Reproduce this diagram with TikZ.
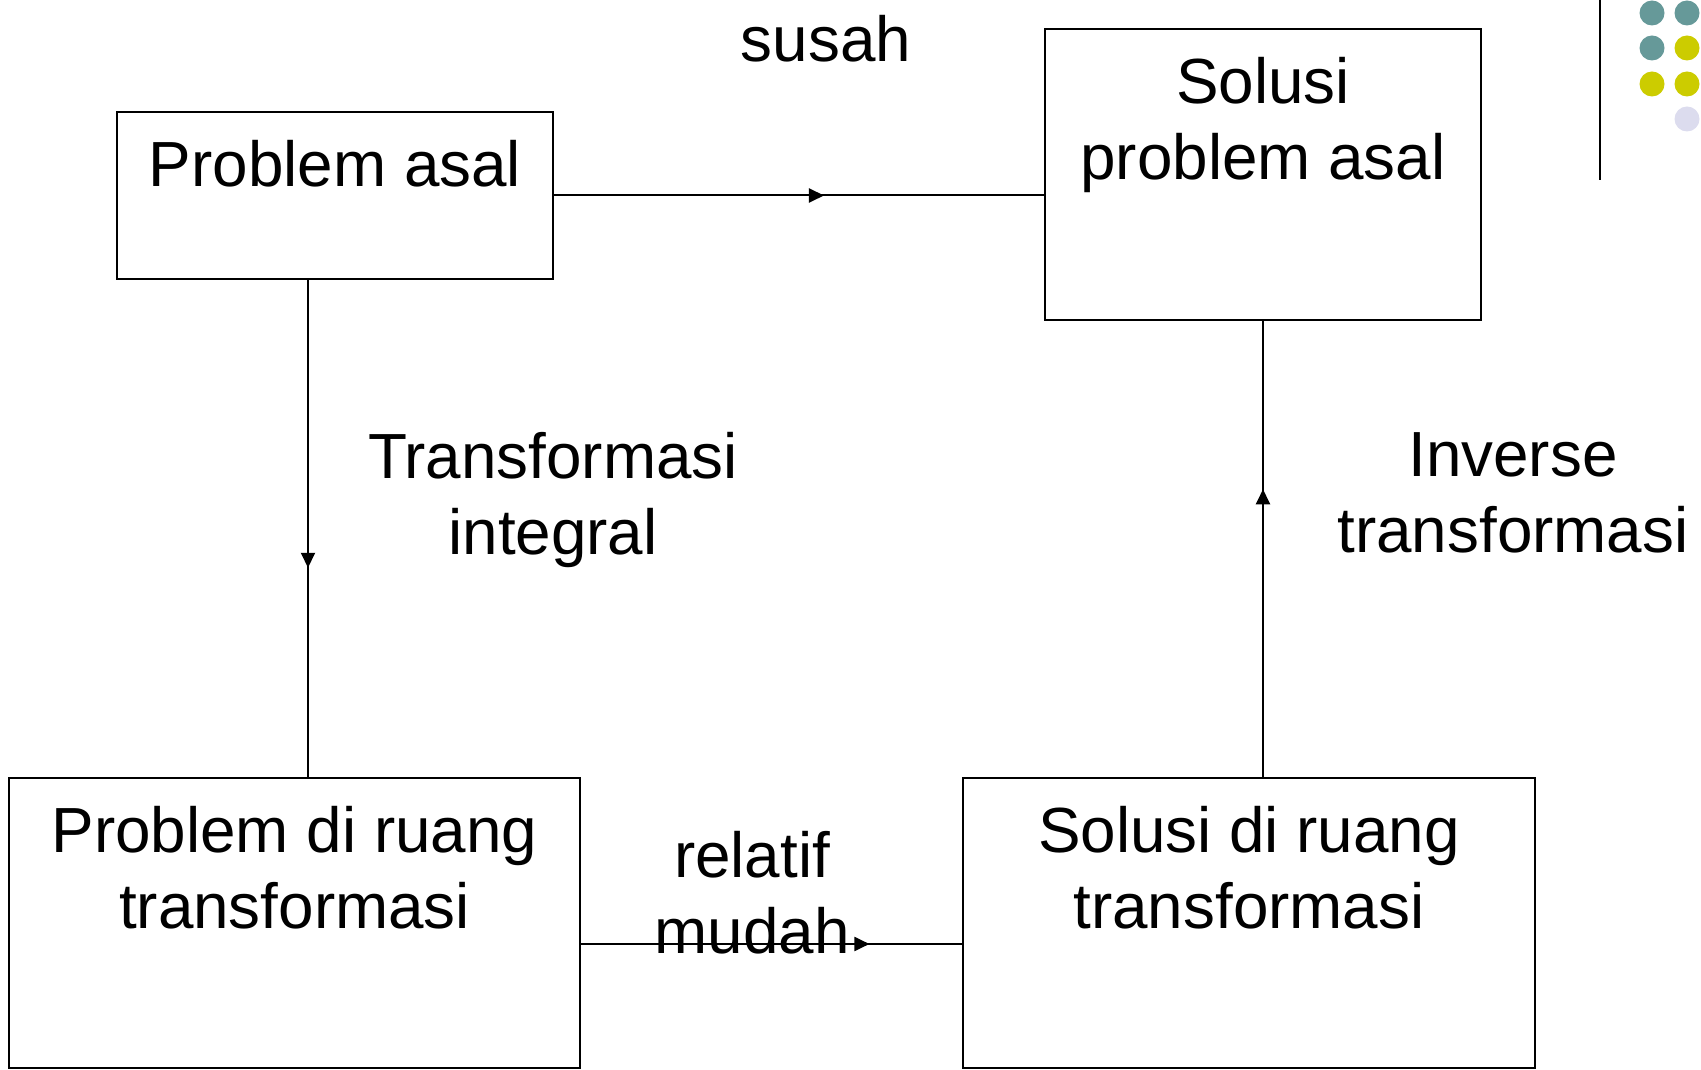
\documentclass[tikz,border=0pt]{standalone}
\usepackage{fontspec}
\setmainfont{Liberation Sans}
\usepackage{tikz}
\usetikzlibrary{arrows.meta,decorations.markings,calc}

\definecolor{dotteal}{HTML}{669999}
\definecolor{dotyellow}{HTML}{CCCC00}
\definecolor{dotlilac}{HTML}{DCDCEE}

\begin{document}
\begin{tikzpicture}[
  box/.style={rectangle, draw, line width=0.04cm, minimum width=8.72cm, inner sep=0pt},
  boxtext/.style={anchor=north, align=center, inner sep=0pt, yshift=-0.58cm},
  note/.style={anchor=north, align=center, inner sep=0pt},
  midarrow/.style={line width=0.04cm, postaction={decorate},
    decoration={markings, mark=at position #1 with {\arrow{Triangle[length=0.30cm,width=0.28cm]}}}},
  font=\fontsize{36.3}{43.3}\selectfont,
]
\useasboundingbox (0,0) rectangle (34.02,-21.4);

% Boxes
\node[box, minimum height=3.34cm, label={[boxtext]north:Problem asal}] (p1) at (6.70,-3.91) {};
\node[box, minimum height=5.82cm, label={[boxtext]north:Solusi\\problem asal}] (p2) at (25.26,-3.49) {};
\node[box, minimum width=11.42cm, minimum height=5.80cm, label={[boxtext]north:Problem di ruang\\transformasi}] (p3) at (5.89,-18.46) {};
\node[box, minimum width=11.44cm, minimum height=5.80cm, label={[boxtext]north:Solusi di ruang\\transformasi}] (p4) at (24.98,-18.46) {};

% Connectors with arrow heads part way along
\draw[midarrow=0.551] (p1.east) -- (p1.east -| p2.west);
\draw[midarrow=0.579] ([xshift=-0.54cm]p1.south) -- ([xshift=-0.54cm]p1.south |- p3.north);
\draw[midarrow=0.631] (p2.south |- p4.north) -- (p2.south);
\draw[midarrow=0.757] ([yshift=-0.42cm]p3.east) -- ([yshift=-0.42cm]p3.east -| p4.west);

% Labels
\node[note] (susah) at (16.52,-0.30) {susah};
\node[note] (trans) at (11.06,-8.64) {Transformasi\\integral};
\node[note] (inv) at (30.26,-8.64) {Inverse\\transformasi};
\node[note] (mudah) at (15.04,-16.62) {relatif\\mudah};

% Corner decoration
\draw[line width=0.04cm] (32.0,0) -- (32.0,-3.6);
\foreach \x/\y/\c in {33.04/0.26/dotteal, 33.74/0.26/dotteal, 33.04/0.96/dotteal, 33.74/0.96/dotyellow,
                      33.04/1.68/dotyellow, 33.74/1.68/dotyellow, 33.74/2.38/dotlilac}
  \fill[\c] (\x,-\y) circle (0.25cm);
\end{tikzpicture}
\end{document}
